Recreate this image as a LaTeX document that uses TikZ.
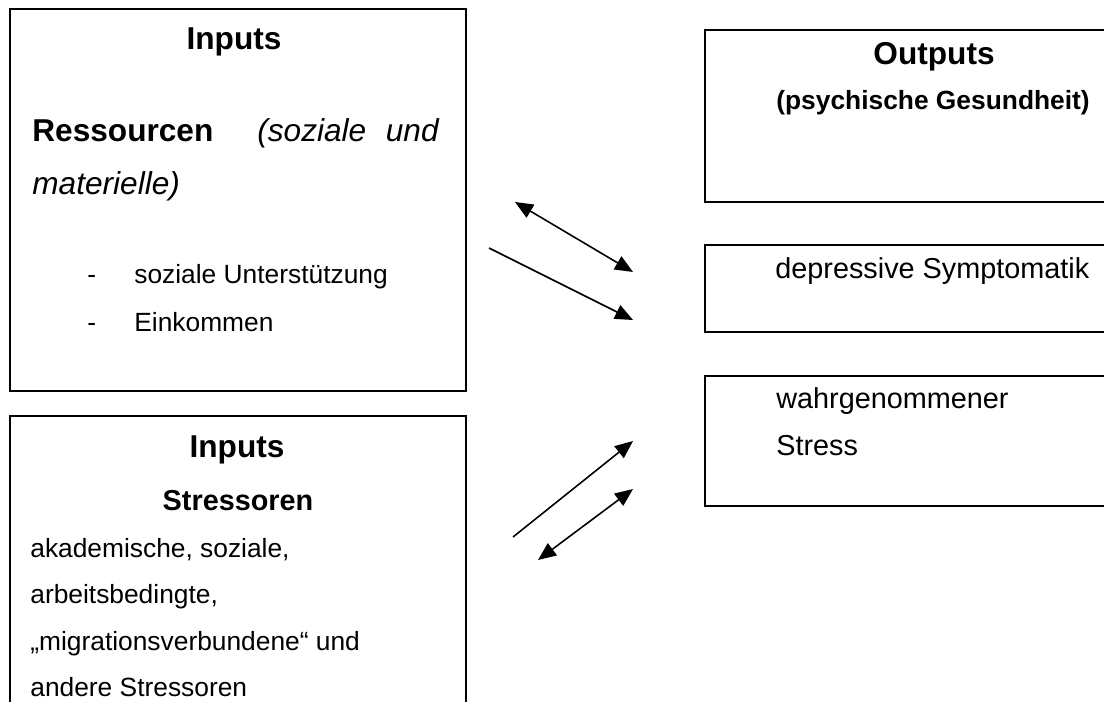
\documentclass[tikz,border=0pt]{standalone}
\usepackage{fontspec}
\setmainfont{Liberation Sans}
\usetikzlibrary{arrows.meta}

\begin{document}
\begin{tikzpicture}[x=0.02cm,y=-0.02cm,>={Triangle[length=0.36cm,width=0.3cm]}]
    \tikzset{
      panel/.style={draw, line width=1.1pt, anchor=north west, inner sep=0pt, outer sep=0pt},
      head/.style={anchor=base, inner sep=0pt, font=\bfseries\fontsize{18}{22}\selectfont},
      big/.style={anchor=base west, inner sep=0pt, font=\fontsize{18}{22}\selectfont},
      txt/.style={anchor=base west, inner sep=0pt, font=\fontsize{15}{18}\selectfont},
      rtxt/.style={anchor=base west, inner sep=0pt, font=\fontsize{16.4}{20}\selectfont},
      arrow/.style={->, line width=0.9pt}
    }
    \clip (0,0) rectangle (1104,702);

    % boxes
    \node[panel, minimum width=9.12cm, minimum height=7.64cm] (res) at (10,9) {};
    \node[panel, minimum width=9.12cm, minimum height=6.2cm] (str) at (10,416) {};
    \node[panel, minimum width=8.4cm, minimum height=3.44cm] (out) at (705,30) {};
    \node[panel, minimum width=8.4cm, minimum height=1.74cm] (depr) at (705,245) {};
    \node[panel, minimum width=8.4cm, minimum height=2.6cm] (stress) at (705,376) {};

    % inputs: resources
    \node[head] (res-title) at (234,50) {Inputs};
    \node[big, font=\bfseries\fontsize{18}{22}\selectfont] (res-name) at (32,142) {Ressourcen};
    \node[big, font=\itshape\fontsize{18}{22}\selectfont] (res-kind) at (257,142) {(soziale};
    \node[big, font=\itshape\fontsize{18}{22}\selectfont, anchor=base east] (res-und) at (439,142) {und};
    \node[big, font=\itshape\fontsize{18}{22}\selectfont] (res-mat) at (32,195) {materielle)};
    \node[txt] (dash1) at (87,283) {-};
    \node[txt] (res-a) at (134,283) {soziale Unterstützung};
    \node[txt] (dash2) at (87,331) {-};
    \node[txt] (res-b) at (134,331) {Einkommen};

    % inputs: stressors
    \node[head] (str-title) at (237,457) {Inputs};
    \node[head, font=\bfseries\fontsize{16.4}{20}\selectfont] (str-name) at (238,510) {Stressoren};
    \node[txt] (str-a) at (30,557) {akademische, soziale,};
    \node[txt] (str-b) at (30,603) {arbeitsbedingte,};
    \node[txt] (str-c) at (30,650) {„migrationsverbundene“ und};
    \node[txt] (str-d) at (30,696) {andere Stressoren};

    % outputs
    \node[head] (out-title) at (934,65) {Outputs};
    \node[txt, font=\bfseries\fontsize{15}{18}\selectfont] (out-sub) at (776,110) {(psychische Gesundheit)};
    \node[rtxt] (depr-t) at (775,278) {depressive Symptomatik};
    \node[rtxt] (stress-a) at (776,408) {wahrgenommener};
    \node[rtxt] (stress-b) at (776,455) {Stress};

    % arrows
    \coordinate (a1s) at (515,202);
    \coordinate (a1e) at (633,272);
    \coordinate (a2s) at (489,248);
    \coordinate (a2e) at (633,320);
    \coordinate (a3s) at (513,537);
    \coordinate (a3e) at (633,441);
    \coordinate (a4s) at (538,560);
    \coordinate (a4e) at (633,489);
    \draw[arrow, <->] (a1s) -- (a1e);
    \draw[arrow] (a2s) -- (a2e);
    \draw[arrow] (a3s) -- (a3e);
    \draw[arrow, <->] (a4s) -- (a4e);
  \end{tikzpicture}
\end{document}
